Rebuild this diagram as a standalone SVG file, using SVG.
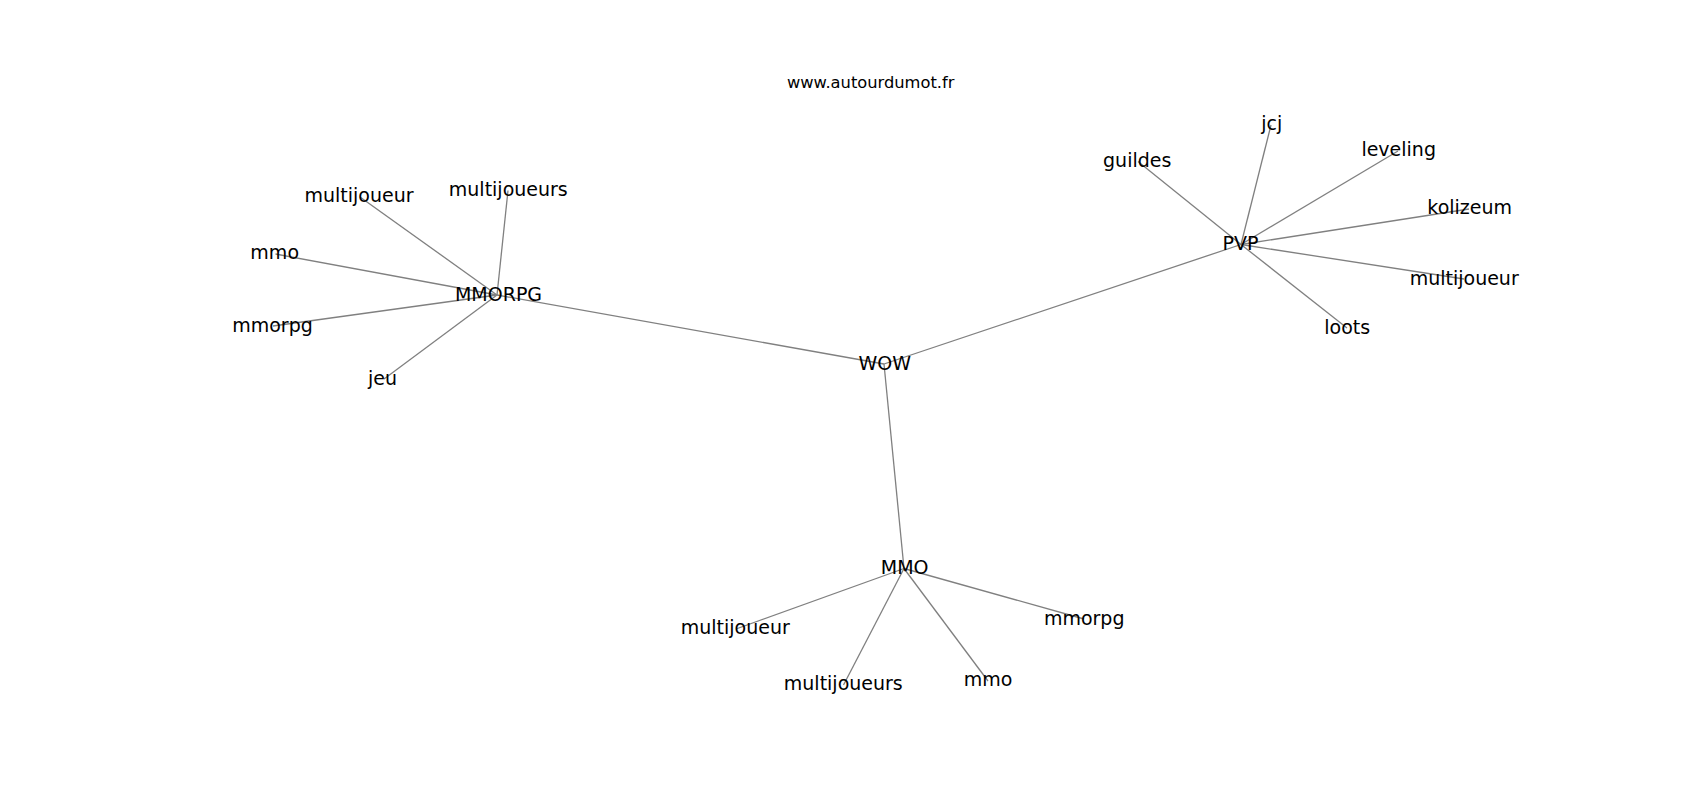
<svg xmlns="http://www.w3.org/2000/svg" width="1700" height="800" viewBox="0 0 1700 800">
<style>
.e{stroke:#808080;stroke-width:1.3;fill:none}
.t{font-family:"DejaVu Sans",sans-serif;font-size:19px;fill:#000;text-anchor:middle}
.title{font-family:"DejaVu Sans",sans-serif;font-size:16.3px;fill:#000;text-anchor:middle}
</style>
<rect width="1700" height="800" fill="#fff"/>
<text class="title" x="870.7" y="87.5">www.autourdumot.fr</text>
<g id="edges">
<line class="e" x1="884" y1="364" x2="497" y2="295"/>
<line class="e" x1="884" y1="364" x2="1241" y2="244.5"/>
<line class="e" x1="884" y1="364" x2="904" y2="568.5"/>
<line class="e" x1="497" y1="295" x2="360" y2="197"/>
<line class="e" x1="497" y1="295" x2="508" y2="190.5"/>
<line class="e" x1="497" y1="295" x2="275.5" y2="254"/>
<line class="e" x1="497" y1="295" x2="273" y2="326"/>
<line class="e" x1="497" y1="295" x2="384" y2="379"/>
<line class="e" x1="1241" y1="244.5" x2="1271" y2="125"/>
<line class="e" x1="1241" y1="244.5" x2="1138" y2="161.5"/>
<line class="e" x1="1241" y1="244.5" x2="1398" y2="151"/>
<line class="e" x1="1241" y1="244.5" x2="1469" y2="209"/>
<line class="e" x1="1241" y1="244.5" x2="1464" y2="279"/>
<line class="e" x1="1241" y1="244.5" x2="1347" y2="328"/>
<line class="e" x1="904" y1="568.5" x2="736" y2="629"/>
<line class="e" x1="904" y1="568.5" x2="843.5" y2="685"/>
<line class="e" x1="904" y1="568.5" x2="988" y2="681"/>
<line class="e" x1="904" y1="568.5" x2="1084" y2="619"/>
</g>
<g id="n-wow"><text class="t" x="884.7" y="370">WOW</text></g>
<g id="n-mmorpg"><text class="t" x="498.5" y="300.5">MMORPG</text></g>
<g id="n-pvp"><text class="t" x="1240.5" y="250">PVP</text></g>
<g id="n-mmo"><text class="t" x="904.7" y="573.5">MMO</text></g>
<g id="n-mmorpg-multijoueur"><text class="t" x="359" y="202.3">multijoueur</text></g>
<g id="n-mmorpg-multijoueurs"><text class="t" x="508.3" y="195.7">multijoueurs</text></g>
<g id="n-mmorpg-mmo"><text class="t" x="274.7" y="259">mmo</text></g>
<g id="n-mmorpg-mmorpg"><text class="t" x="272.5" y="331.5">mmorpg</text></g>
<g id="n-mmorpg-jeu"><text class="t" x="382.5" y="385">jeu</text></g>
<g id="n-pvp-jcj"><text class="t" x="1271.7" y="130">jcj</text></g>
<g id="n-pvp-guildes"><text class="t" x="1137.2" y="166.7">guildes</text></g>
<g id="n-pvp-leveling"><text class="t" x="1398.7" y="156">leveling</text></g>
<g id="n-pvp-kolizeum"><text class="t" x="1469.7" y="214">kolizeum</text></g>
<g id="n-pvp-multijoueur"><text class="t" x="1464.2" y="284.8">multijoueur</text></g>
<g id="n-pvp-loots"><text class="t" x="1347.2" y="333.5">loots</text></g>
<g id="n-mmo-multijoueur"><text class="t" x="735.3" y="634.3">multijoueur</text></g>
<g id="n-mmo-multijoueurs"><text class="t" x="843.3" y="690">multijoueurs</text></g>
<g id="n-mmo-mmo"><text class="t" x="988" y="686">mmo</text></g>
<g id="n-mmo-mmorpg"><text class="t" x="1084.2" y="624.5">mmorpg</text></g>
</svg>
